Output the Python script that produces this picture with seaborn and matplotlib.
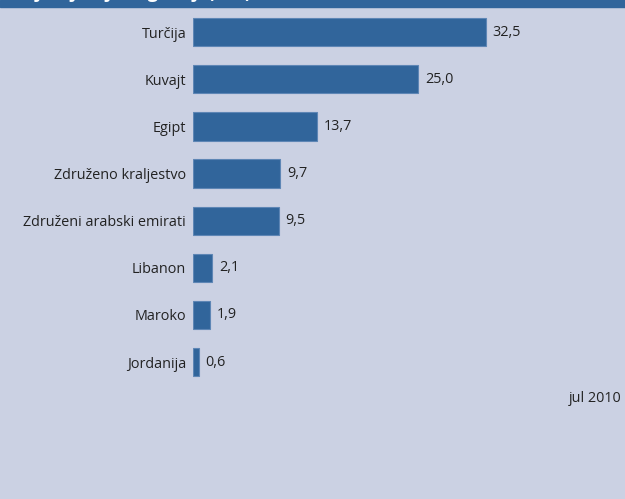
import matplotlib.pyplot as plt
import matplotlib.patches as mpatches
import seaborn as sns
import pandas as pd

countries = ["Turčija", "Kuvajt", "Egipt", "Združeno kraljestvo",
             "Združeni arabski emirati", "Libanon", "Maroko", "Jordanija"]
values = [32.5, 25.0, 13.7, 9.7, 9.5, 2.1, 1.9, 0.6]
title = "Največji tuji vlagatelji (v %)"
note = "jul 2010"

bg = "#CBD1E3"
blue = "#31659B"

df = pd.DataFrame({"country": countries, "value": values})

sns.set_theme(style="white")
plt.rcParams["font.family"] = ["Open Sans", "DejaVu Sans"]

fig = plt.figure(figsize=(6.25, 4.99), dpi=100, facecolor=bg)
ax = fig.add_axes([0.309, 0.227, 0.683, 0.756])
ax.set_facecolor(bg)

sns.barplot(data=df, y="country", x="value", orient="h", color=blue,
            width=0.6, edgecolor="#5E86B5", linewidth=0.8, saturation=1, ax=ax)

labels = [f"{v:.1f}".replace(".", ",") for v in values]
ax.bar_label(ax.containers[0], labels=labels, padding=5, fontsize=10.4, color="#222222")

ax.set_xlim(0, 47.4)
ax.set_ylim(7.5, -0.5)
ax.set_xlabel("")
ax.set_ylabel("")
ax.set_xticks([])
ax.tick_params(axis="y", length=0, pad=5, labelsize=10.4, labelcolor="#222222")
for s in ax.spines.values():
    s.set_visible(False)

# header band, title mostly cut off at top like the reference
fig.patches.append(mpatches.Rectangle((0, 1 - 7 / 499), 1, 7 / 499,
                                      transform=fig.transFigure, color=blue, zorder=0))
fig.text(0.016, 1 + 1.5 / 499, title, color="white", fontsize=13,
         fontweight="bold", va="baseline", ha="left")

fig.text(0.994, 1 - 398 / 499, note, ha="right", va="center",
         fontsize=10.4, color="#222222")

fig.savefig("out.png", dpi=100, facecolor=bg)
